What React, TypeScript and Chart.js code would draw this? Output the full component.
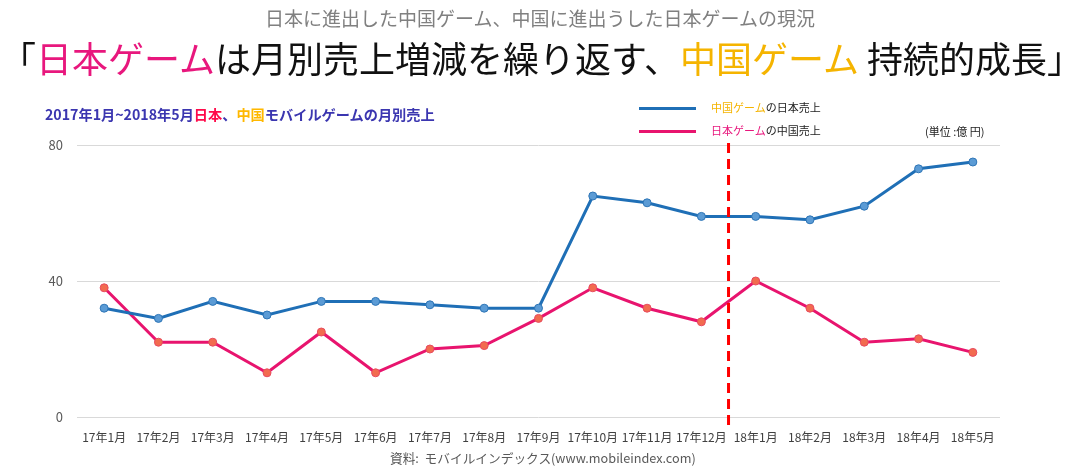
import React, { useEffect, useRef } from "react";
import { Chart, registerables } from "chart.js";

Chart.register(...registerables);

const months = [
  "17年1月", "17年2月", "17年3月", "17年4月", "17年5月", "17年6月", "17年7月", "17年8月", "17年9月",
  "17年10月", "17年11月", "17年12月", "18年1月", "18年2月", "18年3月", "18年4月", "18年5月",
];
const chinaGamesInJapan = [32, 29, 34, 30, 34, 34, 33, 32, 32, 65, 63, 59, 59, 58, 62, 73, 75];
const japanGamesInChina = [38, 22, 22, 13, 25, 13, 20, 21, 29, 38, 32, 28, 40, 32, 22, 23, 19];
const yTicks = [0, 40, 80];
const dividerAfter = "17年12月";

const FONT = "'Noto Sans CJK JP', 'Noto Sans', sans-serif";
const BLUE = "#1f6fb6";
const RED = "#e8146e";
const PINK = "#e8177d";
const YELLOW = "#f5b400";

const dividerPlugin = {
  id: "divider",
  afterDatasetsDraw(chart: any) {
    const x = chart.scales.x;
    const i = months.indexOf(dividerAfter);
    const px = (x.getPixelForValue(i) + x.getPixelForValue(i + 1)) / 2;
    const { top, bottom } = chart.chartArea;
    const ctx = chart.ctx;
    ctx.save();
    ctx.strokeStyle = "#ff0000";
    ctx.lineWidth = 3;
    ctx.setLineDash([10, 6]);
    ctx.beginPath();
    ctx.moveTo(px, top - 2);
    ctx.lineTo(px, bottom + 11);
    ctx.stroke();
    ctx.restore();
  },
};

export default function App() {
  const ref = useRef<HTMLCanvasElement>(null);
  useEffect(() => {
    const chart = new Chart(ref.current!, {
      type: "line",
      data: {
        labels: months,
        datasets: [
          {
            label: "中国ゲームの日本売上",
            data: chinaGamesInJapan,
            borderColor: BLUE,
            backgroundColor: "#5b9bd5",
            pointBackgroundColor: "#5b9bd5",
            pointBorderColor: "#2e75b6",
            pointBorderWidth: 1,
            pointRadius: 4,
            borderWidth: 3,
            tension: 0,
          },
          {
            label: "日本ゲームの中国売上",
            data: japanGamesInChina,
            borderColor: RED,
            backgroundColor: "#f26b4f",
            pointBackgroundColor: "#f26b4f",
            pointBorderColor: "#e84a5f",
            pointBorderWidth: 1,
            pointRadius: 4,
            borderWidth: 3,
            tension: 0,
          },
        ],
      },
      options: {
        responsive: false,
        animation: false,
        layout: { padding: { top: 145, right: 80, left: 2, bottom: 0 } },
        plugins: { legend: { display: false }, title: { display: false }, tooltip: { enabled: false } },
        scales: {
          x: {
            offset: true,
            grid: { display: false, drawTicks: false },
            border: { display: false },
            ticks: {
              autoSkip: false,
              maxRotation: 0,
              padding: 13,
              color: "#404040",
              font: { family: FONT, size: 12 },
            },
            afterFit: (s: any) => { s.height = 57; },
          },
          y: {
            min: 0,
            max: 80,
            afterBuildTicks: (s: any) => { s.ticks = yTicks.map((v) => ({ value: v })); },
            grid: { color: "#d9d9d9", drawTicks: false, lineWidth: 1 },
            border: { display: false },
            ticks: {
              padding: 14,
              color: "#595959",
              font: { family: FONT, size: 13 },
            },
            afterFit: (s: any) => { s.width = 75; },
          },
        },
      },
      plugins: [dividerPlugin],
    });
    return () => chart.destroy();
  }, []);

  const abs = (style: React.CSSProperties): React.CSSProperties => ({
    position: "absolute",
    whiteSpace: "pre",
    fontFamily: FONT,
    lineHeight: 1,
    ...style,
  });

  return (
    <div style={{ position: "fixed", left: 0, top: 0, width: 1080, height: 474, background: "#fff", overflow: "hidden" }}>
      <canvas ref={ref} width={1080} height={474} style={{ position: "absolute", left: 0, top: 0 }} />
      <div style={abs({ left: 0, width: 1080, top: 8, textAlign: "center", fontSize: 19, color: "#808080" })}>
        日本に進出した中国ゲーム、中国に進出うした日本ゲームの現況
      </div>
      <div style={abs({ left: 0, width: 1080, top: 39, textAlign: "center", fontSize: 36, color: "#111" })}>
        「<span style={{ color: PINK }}>日本ゲーム</span>は月別売上増減を繰り返す、<span style={{ color: YELLOW }}>中国ゲーム</span> 持続的成長」
      </div>
      <div style={abs({ left: 45, top: 107, fontSize: 14.2, fontWeight: 700, color: "#3b36b0" })}>
        2017年1月~2018年5月<span style={{ color: "#ff0a4a" }}>日本</span>、<span style={{ color: "#ffb800" }}>中国</span>モバイルゲームの月別売上
      </div>
      <div style={abs({ left: 639, top: 107, width: 57, height: 3, background: BLUE })} />
      <div style={abs({ left: 639, top: 130, width: 57, height: 3, background: RED })} />
      <div style={abs({ left: 711, top: 102, fontSize: 11, color: "#222" })}>
        <span style={{ color: YELLOW }}>中国ゲーム</span>の日本売上
      </div>
      <div style={abs({ left: 711, top: 125, fontSize: 11, color: "#222" })}>
        <span style={{ color: PINK }}>日本ゲーム</span>の中国売上
      </div>
      <div style={abs({ left: 925, top: 126, fontSize: 11, color: "#222" })}>(単位 :億 円)</div>
      <div style={abs({ left: 390, top: 452, fontSize: 12.7, color: "#595959" })}>
        {"資料:  モバイルインデックス(www.mobileindex.com)"}
      </div>
    </div>
  );
}
